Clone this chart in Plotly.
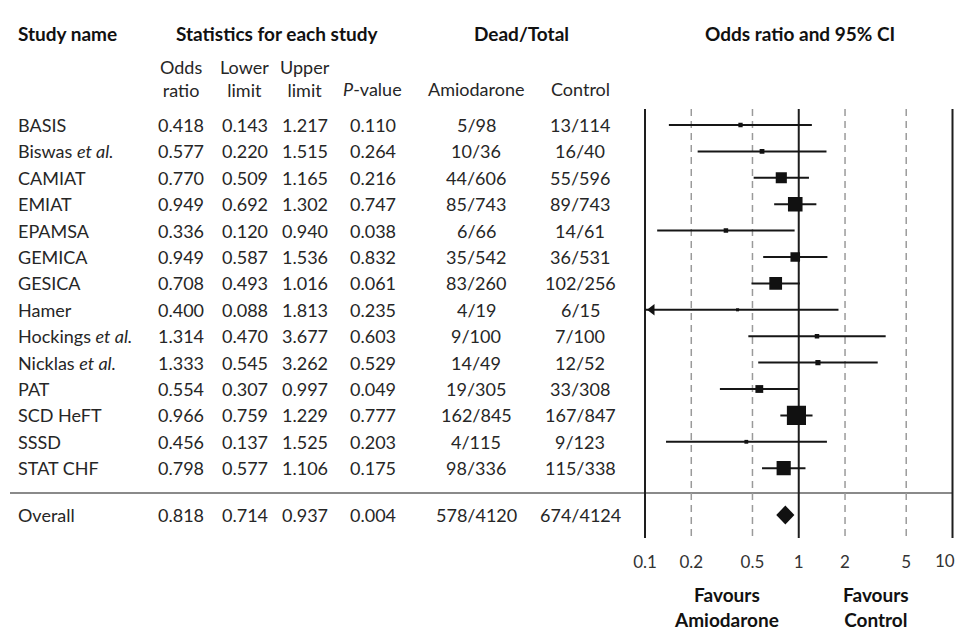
import math
import plotly.graph_objects as go

# ---------------- data ----------------
studies = ["BASIS", "Biswas <i>et al.</i>", "CAMIAT", "EMIAT", "EPAMSA", "GEMICA", "GESICA",
           "Hamer", "Hockings <i>et al.</i>", "Nicklas <i>et al.</i>", "PAT", "SCD HeFT",
           "SSSD", "STAT CHF"]
odds_ratio = [0.418, 0.577, 0.770, 0.949, 0.336, 0.949, 0.708, 0.400, 1.314, 1.333, 0.554, 0.966, 0.456, 0.798]
lower_limit = [0.143, 0.220, 0.509, 0.692, 0.120, 0.587, 0.493, 0.088, 0.470, 0.545, 0.307, 0.759, 0.137, 0.577]
upper_limit = [1.217, 1.515, 1.165, 1.302, 0.940, 1.536, 1.016, 1.813, 3.677, 3.262, 0.997, 1.229, 1.525, 1.106]
p_value = ["0.110", "0.264", "0.216", "0.747", "0.038", "0.832", "0.061", "0.235", "0.603", "0.529",
           "0.049", "0.777", "0.203", "0.175"]
amiodarone = ["5/98", "10/36", "44/606", "85/743", "6/66", "35/542", "83/260", "4/19", "9/100",
              "14/49", "19/305", "162/845", "4/115", "98/336"]
control = ["13/114", "16/40", "55/596", "89/743", "14/61", "36/531", "102/256", "6/15", "7/100",
           "12/52", "33/308", "167/847", "9/123", "115/338"]

overall_name = "Overall"
overall_or = 0.818
overall_lower = 0.714
overall_upper = 0.937
overall_p = "0.004"
overall_amio = "578/4120"
overall_ctrl = "674/4124"

tick_vals = [0.1, 0.2, 0.5, 1, 2, 5]
tick_text = ["0.1", "0.2", "0.5", "1", "2", "5"]
last_tick_val, last_tick_text = 10, "10"      # drawn as an axis-anchored annotation so it stays in the page
solid_refs = [0.1, 1, 10]
dashed_refs = [0.2, 0.5, 2, 5]

# ---------------- layout constants ----------------
W, H = 965, 631
OFF = 8                     # page body margin offset
ROW0_PX, ROW_STEP = 125 - OFF, 26.4
X_MIN, X_MAX = 0.1, 10
PLOT_L, PLOT_R = 645 - OFF, 952.5 - OFF
PX_PER_DEC = (PLOT_R - PLOT_L) / (math.log10(X_MAX) - math.log10(X_MIN))
PADPX = 4                   # axis padding so edge lines are not clipped
PAD_DEC = PADPX / PX_PER_DEC
TICK_Y_PX = 560


def py(px):
    """reference pixel row -> y-axis units (row index)"""
    return (px - OFF - ROW0_PX) / ROW_STEP


def pxx(px):
    """reference pixel column -> paper x"""
    return (px - OFF) / W


OVERALL_ROW = py(515)
SEP_ROW = py(493)
LINE_TOP, LINE_BOT = py(109), py(538)

FONT = "Lato"
FS = 18
FSB = 19
TXT = "#262626"
HDR = "#111111"

fig = go.Figure()

# reference lines (drawn through the x axis scale)
sx, sy = [], []
for v in solid_refs:
    sx += [v, v, None]
    sy += [LINE_TOP, LINE_BOT, None]
dx, dy = [], []
for v in dashed_refs:
    dx += [v, v, None]
    dy += [LINE_TOP, LINE_BOT, None]
fig.add_trace(go.Scatter(x=dx, y=dy, mode="lines", line=dict(color="#9a9a9a", width=1.5, dash="7px,5px"),
                         hoverinfo="skip", showlegend=False))
fig.add_trace(go.Scatter(x=sx, y=sy, mode="lines", line=dict(color="#1e1e1e", width=2),
                         hoverinfo="skip", showlegend=False))

shapes = [dict(type="line", xref="paper", yref="y", x0=pxx(10), x1=pxx(952.5), y0=SEP_ROW, y1=SEP_ROW,
               line=dict(color="#8a8a8a", width=2), layer="below")]

# CI lines
rows = list(range(len(studies)))
lx, ly = [], []
arrow_x, arrow_y = [], []
for i in rows:
    lo = max(lower_limit[i], X_MIN)
    lx += [lo, min(upper_limit[i], X_MAX), None]
    ly += [i, i, None]
    if lower_limit[i] < X_MIN:
        arrow_x.append(X_MIN * 10 ** (7 / PX_PER_DEC))
        arrow_y.append(i)
fig.add_trace(go.Scatter(x=lx, y=ly, mode="lines", line=dict(color="#161616", width=2),
                         hoverinfo="skip", showlegend=False))

# weighted squares
sizes = [2.35 * 3.92 / math.log(u / l) for l, u in zip(lower_limit, upper_limit)]
fig.add_trace(go.Scatter(x=odds_ratio, y=rows, mode="markers",
                         marker=dict(symbol="square", size=sizes, color="#111111", opacity=1,
                                     line=dict(width=0)),
                         showlegend=False))

# truncated CI arrow
fig.add_trace(go.Scatter(x=arrow_x, y=arrow_y, mode="markers",
                         marker=dict(symbol="triangle-left", size=10, color="#111111", opacity=1,
                                     line=dict(width=0)),
                         showlegend=False, cliponaxis=False))

# overall diamond
dh = 9.5 / ROW_STEP
fig.add_trace(go.Scatter(x=[overall_lower, overall_or, overall_upper, overall_or, overall_lower],
                         y=[OVERALL_ROW, OVERALL_ROW - dh, OVERALL_ROW, OVERALL_ROW + dh, OVERALL_ROW],
                         mode="lines", fill="toself", fillcolor="#111111", line=dict(width=0, color="#111111"),
                         showlegend=False))

# ---------------- table text ----------------
ann = []


def t(text, xpx, y, anchor="center", bold=False, size=None, color=None):
    ann.append(dict(text=("<b>%s</b>" % text) if bold else text, x=pxx(xpx), xref="paper", y=y, yref="y",
                    xanchor=anchor, yanchor="middle", showarrow=False,
                    font=dict(family=FONT, size=size or (FSB if bold else FS),
                              color=color or (HDR if bold else TXT))))


COL_NAME = 16
COL_OR, COL_LO, COL_UP, COL_P, COL_AM, COL_CT = 181, 244.5, 305, 372.5, 476, 580

# headers
t("Study name", COL_NAME, py(33), anchor="left", bold=True)
t("Statistics for each study", 276.5, py(33), bold=True)
t("Dead/Total", 521, py(33), bold=True)
t("Odds ratio and 95% CI", 799.5, py(33), bold=True)
t("Odds<br>ratio", COL_OR, py(78))
t("Lower<br>limit", COL_LO, py(78))
t("Upper<br>limit", COL_UP, py(78))
t("<i>P</i>-value", COL_P, py(89))
t("Amiodarone", COL_AM, py(89))
t("Control", COL_CT, py(89))

for i in rows:
    t(studies[i], COL_NAME, i, anchor="left")
    t("%.3f" % odds_ratio[i], COL_OR, i)
    t("%.3f" % lower_limit[i], COL_LO, i)
    t("%.3f" % upper_limit[i], COL_UP, i)
    t(p_value[i], COL_P, i)
    t(amiodarone[i], COL_AM, i)
    t(control[i], COL_CT, i)

t(overall_name, COL_NAME, OVERALL_ROW, anchor="left")
t("%.3f" % overall_or, COL_OR, OVERALL_ROW)
t("%.3f" % overall_lower, COL_LO, OVERALL_ROW)
t("%.3f" % overall_upper, COL_UP, OVERALL_ROW)
t(overall_p, COL_P, OVERALL_ROW)
t(overall_amio, COL_AM, OVERALL_ROW)
t(overall_ctrl, COL_CT, OVERALL_ROW)

t("Favours<br>Amiodarone", 726, py(607), bold=True)
t("Favours<br>Control", 876, py(607), bold=True)

# last tick label on the x scale (log axis -> annotation x in log10 units), kept inside the page
ann.append(dict(text=last_tick_text, x=math.log10(last_tick_val), xref="x", y=py(TICK_Y_PX), yref="y",
                xanchor="right", yanchor="middle", xshift=4, showarrow=False,
                font=dict(family=FONT, size=17, color="#333333")))

fig.update_layout(
    width=W, height=H, margin=dict(l=0, r=0, t=0, b=0, pad=0, autoexpand=False),
    paper_bgcolor="white", plot_bgcolor="white",
    shapes=shapes, annotations=ann, showlegend=False,
    xaxis=dict(type="log", range=[math.log10(X_MIN) - PAD_DEC, math.log10(X_MAX) + PAD_DEC],
               domain=[(PLOT_L - PADPX) / W, (PLOT_R + PADPX) / W], anchor="free",
               position=(H - (549.5 - OFF)) / H,
               tickvals=tick_vals, ticktext=tick_text, ticks="", showgrid=False, zeroline=False,
               showline=False, automargin=False,
               tickfont=dict(family=FONT, size=17, color="#333333"), fixedrange=True),
    yaxis=dict(range=[py(H + OFF), py(OFF)], domain=[0, 1], visible=False, showgrid=False, zeroline=False,
               automargin=False, fixedrange=True),
)

fig.write_html("out.html")
